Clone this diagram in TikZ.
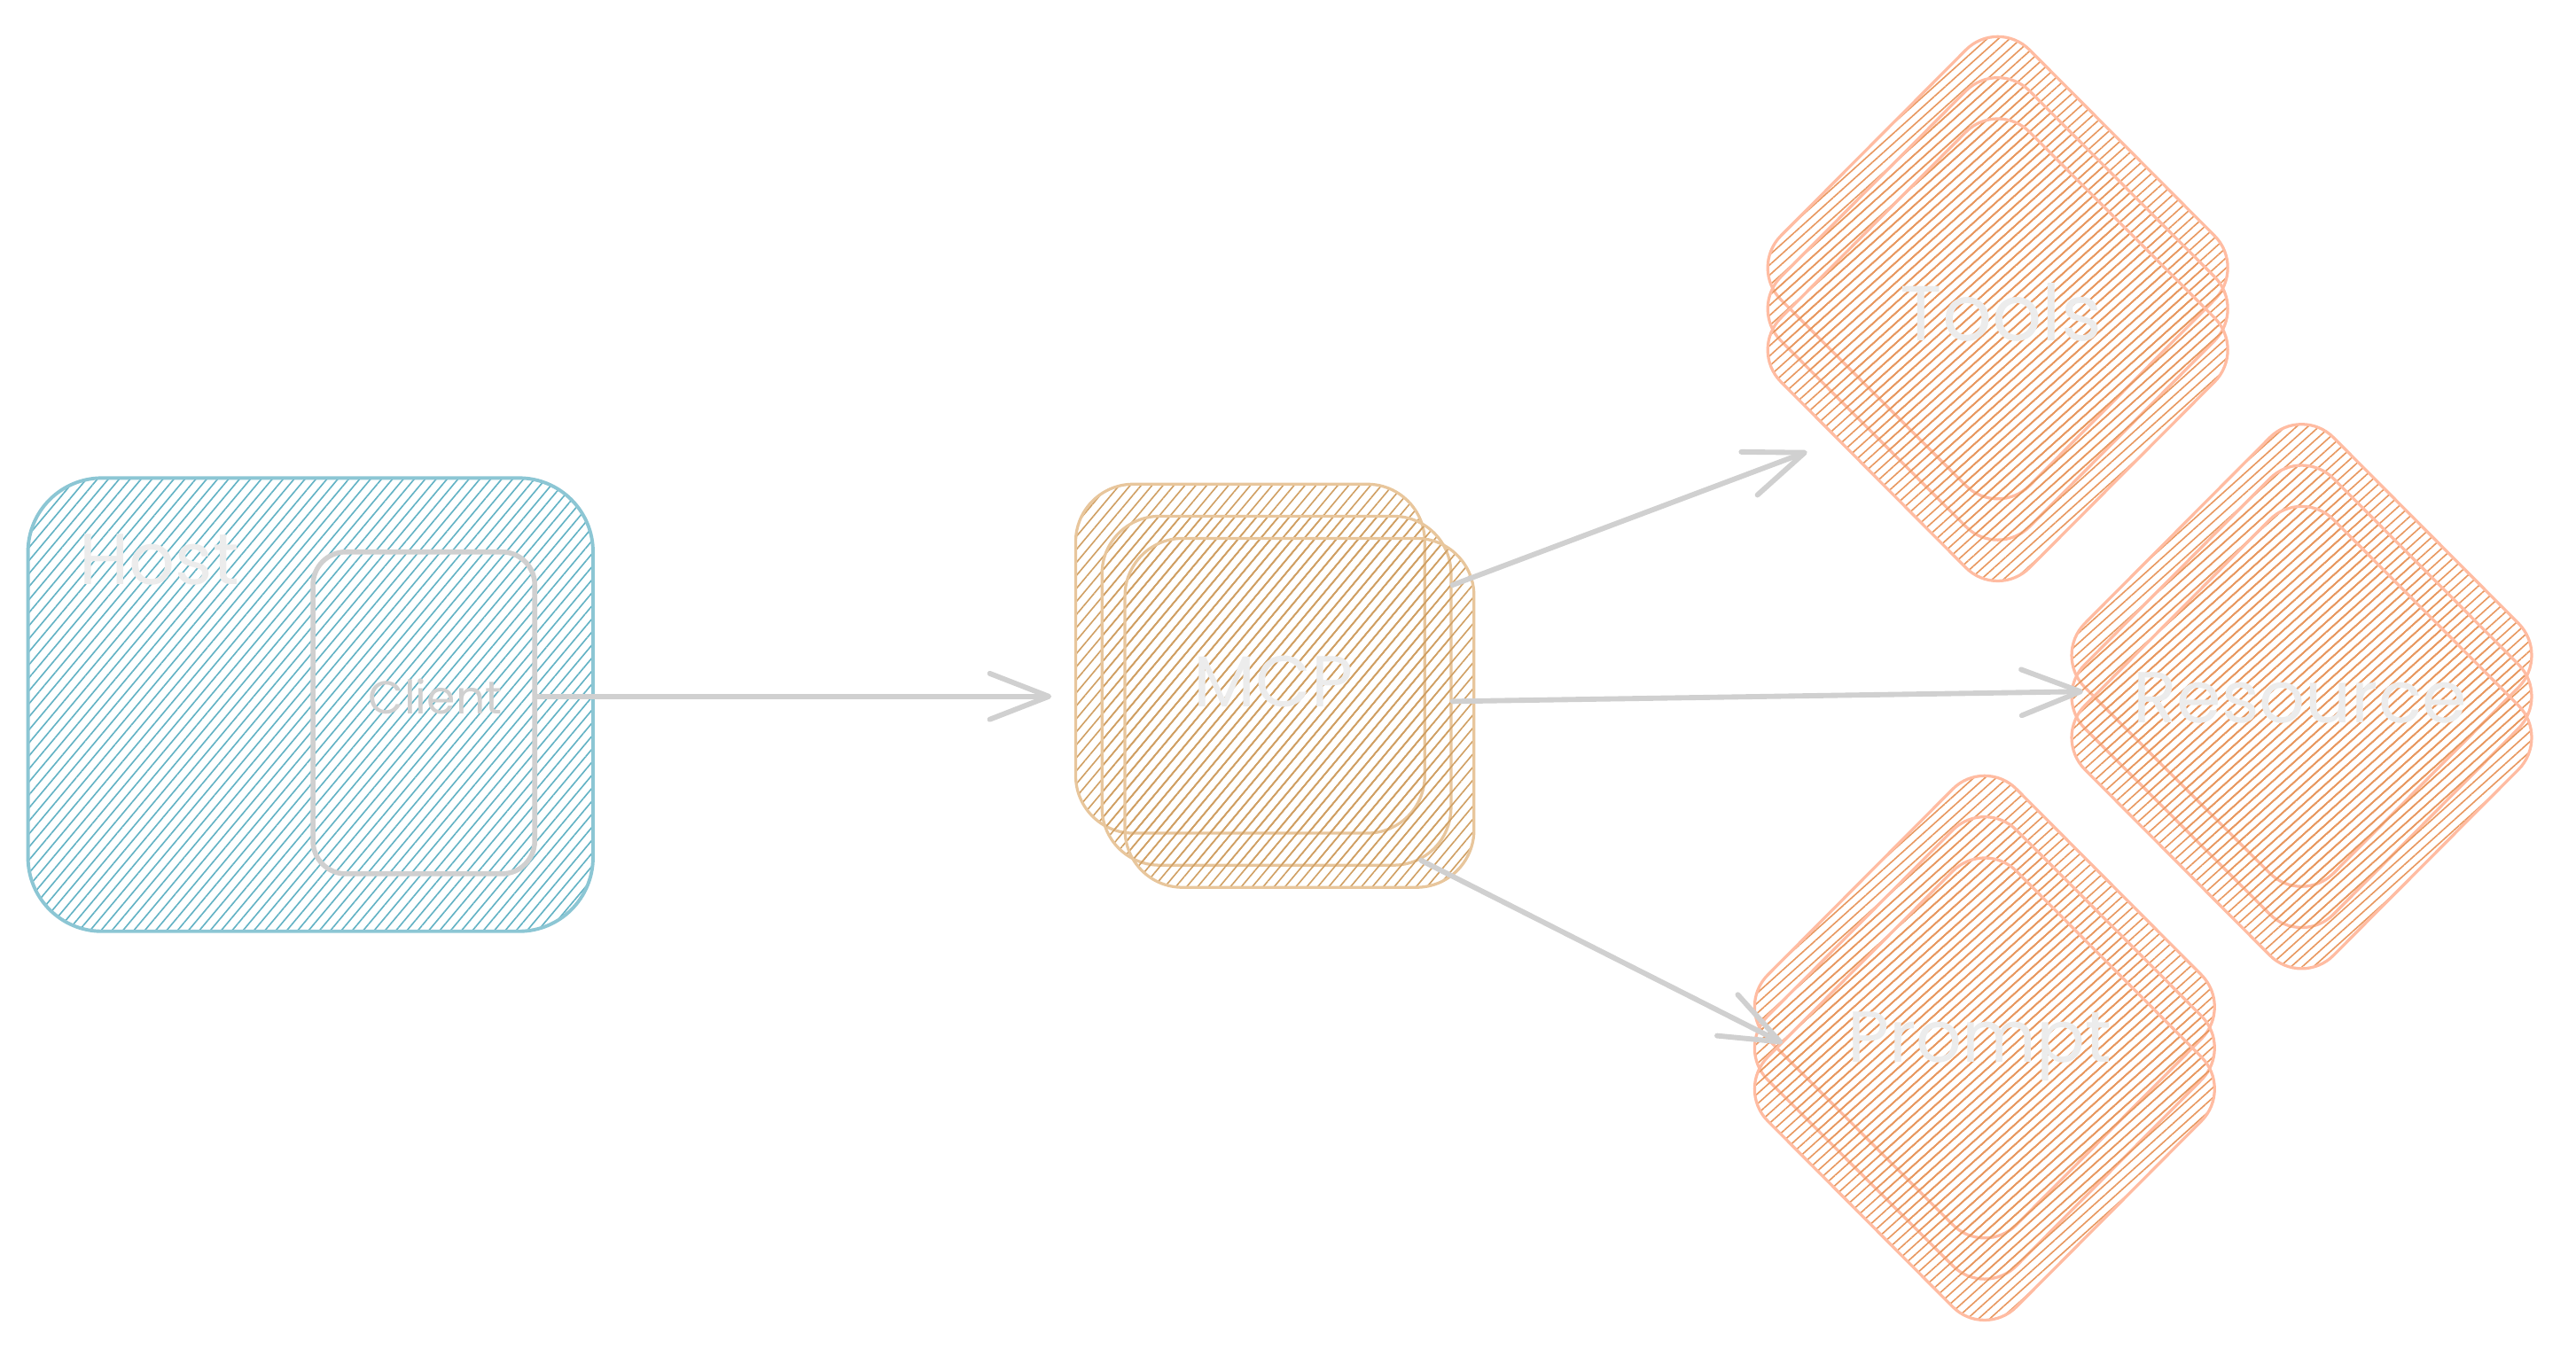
\documentclass[tikz,border=0pt]{standalone}
\usepackage{fontspec}
\newfontfamily\sketchfont{Poppins}
\usepackage{tikz}
\usetikzlibrary{arrows.meta}
\usetikzlibrary{patterns.meta,shapes.geometric}
\definecolor{hostline}{RGB}{140,198,212}
\definecolor{hosthatch}{RGB}{98,178,196}
\definecolor{mcpline}{RGB}{232,198,156}
\definecolor{mcphatch}{RGB}{208,160,100}
\definecolor{srvline}{RGB}{255,188,162}
\definecolor{srvhatch}{RGB}{232,152,96}
\definecolor{linkgray}{RGB}{208,208,208}
\definecolor{lbltext}{RGB}{236,236,236}
\tikzstyle{link}=[-{Straight Barb[length=0.72cm,width=0.56cm,round]}, draw=linkgray, line width=1.8pt, line cap=round]
\tikzset{
    hatched/.style args={#1 and #2}{
         draw=#1, pattern={Lines[angle=50,distance=2.9pt,line width=0.5pt]}, pattern color=#2
    },
    hostbox/.style={hatched=hostline and hosthatch, line width=1.2pt, rounded corners=0.9cm, minimum width=6.88cm, minimum height=5.52cm},
    clientbox/.style={draw=linkgray, line width=1.7pt, rounded corners=0.4cm, minimum width=2.7cm, minimum height=3.92cm},
    mcpbox/.style={hatched=mcpline and mcphatch, line width=1pt, rounded corners=0.7cm, minimum size=4.25cm},
    srvdiam/.style={diamond, hatched=srvline and srvhatch, pattern={Lines[angle=42,distance=2.6pt,line width=0.5pt]}, line width=1pt, rounded corners=0.55cm, inner sep=0pt, minimum width=6.07cm, minimum height=6.1cm},
    lbl/.style={text=lbltext, font=\sketchfont\fontsize{25}{30}\selectfont}
}

\begin{document}
\begin{tikzpicture}[x=0.02cm, y=-0.02cm]
  \useasboundingbox (0,0) rectangle (1568,830);

  % host with its client
  \node (host)[hostbox] at (189,429) {};
  \node (hostlabel)[lbl] at (97,341) {Host};
  \node (client)[clientbox] at (258,434) {};
  \node (clientlabel)[lbl, text=linkgray, font=\sketchfont\fontsize{16}{20}\selectfont] at (265,424) {Client};

  % mcp server, three stacked
  \node (mcp1)[mcpbox] at (761,401) {};
  \node (mcp2)[mcpbox, xshift=0.32cm, yshift=-0.39cm] at (mcp1) {};
  \node (mcp3)[mcpbox, xshift=0.28cm, yshift=-0.27cm] at (mcp2) {};
  \node (mcplabel)[lbl] at (775,415) {MCP};

  % tools
  \node (tools1)[srvdiam] at (1216,163) {};
  \node (tools2)[srvdiam, yshift=-0.5cm] at (tools1) {};
  \node (tools3)[srvdiam, yshift=-0.5cm] at (tools2) {};
  \node (tools)[lbl, font=\sketchfont\fontsize{27}{32}\selectfont] at (1218,190) {Tools};

  % resource
  \node (res1)[srvdiam] at (1401,399) {};
  \node (res2)[srvdiam, yshift=-0.5cm] at (res1) {};
  \node (res3)[srvdiam, yshift=-0.5cm] at (res2) {};
  \node (res)[lbl] at (1400,425) {Resource};

  % prompt
  \node (prompt1)[srvdiam] at (1208,613) {};
  \node (prompt2)[srvdiam, yshift=-0.5cm] at (prompt1) {};
  \node (prompt3)[srvdiam, yshift=-0.5cm] at (prompt2) {};
  \node (prompt)[lbl] at (1205,637) {Prompt};

  \coordinate (mcpin) at (640,424);
  \coordinate (toolsin) at (1100,275);
  \coordinate (resin) at (1268,421);
  \coordinate (promptin) at (1085,635);

  \draw[link] (client.east |- mcpin) -- (mcpin);
  \draw[link] ([xshift=-0.28cm]mcp3.36) -- (toolsin);
  \draw[link] ([xshift=-0.28cm,yshift=0.14cm]mcp3.east) -- (resin);
  \draw[link] ([xshift=-0.66cm]mcp3.-40) -- (promptin);
\end{tikzpicture}
\end{document}
